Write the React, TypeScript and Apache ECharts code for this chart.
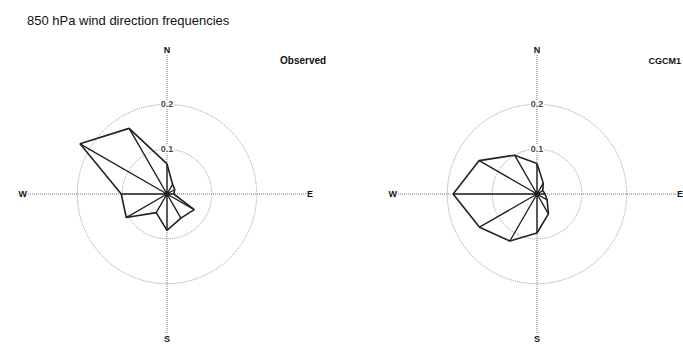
import React, { useEffect, useRef } from "react";
import * as echarts from "echarts";

const titleText = "850 hPa wind direction frequencies";
const panelNames = ["Observed", "CGCM1"];
const directions = [0, 30, 60, 90, 120, 150, 180, 210, 240, 270, 300, 330];
const observed = [0.067, 0.025, 0.02, 0.015, 0.07, 0.062, 0.081, 0.048, 0.105, 0.102, 0.224, 0.169];
const cgcm = [0.068, 0.028, 0.015, 0.018, 0.026, 0.051, 0.087, 0.121, 0.148, 0.187, 0.149, 0.1];
const ringLabels = [0.1, 0.2];
const compass: Record<number, string> = { 0: "N", 90: "E", 180: "S", 270: "W" };

const FONT = "'Liberation Sans', Arial, sans-serif";

function polygonData(vals: number[]) {
  const d = vals.map((v, i) => [v, directions[i]]);
  d.push([vals[0], directions[0]]);
  return d;
}
function spokeData(vals: number[]) {
  const d: number[][] = [];
  vals.forEach((v, i) => {
    d.push([0, directions[i]]);
    d.push([v, directions[i]]);
  });
  return d;
}

export default function App() {
  const ref = useRef<HTMLDivElement>(null);
  useEffect(() => {
    if (!ref.current) return;
    const chart = echarts.init(ref.current, undefined, { renderer: "svg" });
    const centers = [
      [167, 194],
      [537, 194],
    ];
    const datasets = [observed, cgcm];
    const polar = centers.map((c) => ({ center: c, radius: 139 }));
    const angleAxis = centers.map((_, i) => ({
      polarIndex: i,
      type: "value",
      min: 0,
      max: 360,
      interval: 90,
      startAngle: 90,
      clockwise: true,
      axisLine: { show: false },
      axisTick: { show: false },
      axisLabel: {
        margin: 1,
        fontFamily: FONT,
        fontSize: 9,
        fontWeight: "bold",
        color: "#111",
        formatter: (v: number) => compass[v] ?? "",
      },
      splitLine: { show: true, lineStyle: { color: "#777", type: "dotted", width: 1 } },
    }));
    const radiusAxis = centers.map((_, i) => ({
      polarIndex: i,
      type: "value",
      min: 0,
      max: 0.31,
      interval: 0.1,
      axisLine: { show: false },
      axisTick: { show: false },
      axisLabel: { show: false },
      splitLine: {
        show: true,
        lineStyle: {
          color: ["rgba(0,0,0,0)", "#999", "#999", "rgba(0,0,0,0)", "rgba(0,0,0,0)"],
          type: "dotted",
          width: 1,
        },
      },
    }));
    const series: any[] = [];
    datasets.forEach((vals, i) => {
      series.push({
        type: "line",
        coordinateSystem: "polar",
        polarIndex: i,
        data: spokeData(vals),
        showSymbol: false,
        symbol: "none",
        lineStyle: { color: "#222", width: 1.4 },
        z: 3,
      });
      series.push({
        type: "line",
        coordinateSystem: "polar",
        polarIndex: i,
        data: polygonData(vals),
        showSymbol: false,
        symbol: "none",
        lineStyle: { color: "#222", width: 1.6 },
        z: 4,
      });
      series.push({
        type: "scatter",
        coordinateSystem: "polar",
        polarIndex: i,
        data: ringLabels.map((r) => [r, 0]),
        symbolSize: 0,
        label: {
          show: true,
          position: "inside",
          fontFamily: FONT,
          fontSize: 9,
          fontWeight: "bold",
          color: "#111",
          backgroundColor: "#fff",
          padding: [0, 1],
          formatter: (p: any) => String(p.value[0]),
        },
        z: 5,
      });
    });
    chart.setOption({
      animation: false,
      backgroundColor: "#fff",
      title: [
        {
          text: titleText,
          left: 27,
          top: 14,
          padding: 0,
          textStyle: { fontFamily: FONT, fontSize: 13, fontWeight: "normal", color: "#111" },
        },
        {
          text: panelNames[0],
          left: 280,
          top: 55,
          padding: 0,
          textStyle: { fontFamily: FONT, fontSize: 10, fontWeight: "bold", color: "#111" },
        },
        {
          text: panelNames[1],
          right: 2,
          top: 56,
          padding: 0,
          textStyle: { fontFamily: FONT, fontSize: 9, fontWeight: "bold", color: "#111" },
        },
      ],
      polar,
      angleAxis,
      radiusAxis,
      series,
    });
    return () => chart.dispose();
  }, []);
  return (
    <div
      ref={ref}
      style={{ position: "fixed", left: 0, top: 0, width: 683, height: 344, background: "#fff" }}
    />
  );
}
